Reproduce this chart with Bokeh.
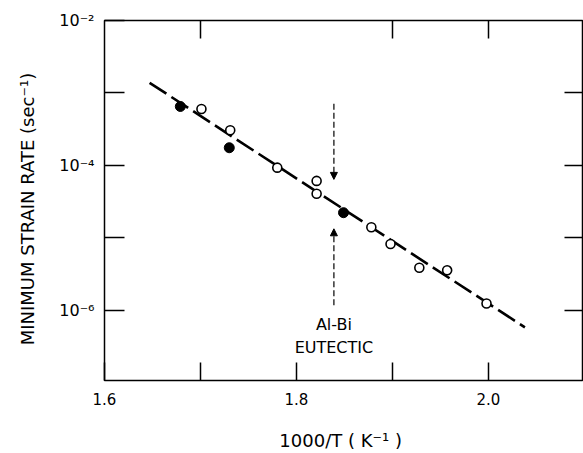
from bokeh.plotting import figure
from bokeh.models import (Range1d, FixedTicker, LogAxis, LinearAxis,
                          CustomJSTickFormatter, Arrow, NormalHead, ColumnDataSource)
from bokeh.core.properties import value
from bokeh.embed import file_html
from bokeh.resources import INLINE

# ---- data ----
open_x = [1.701, 1.731, 1.780, 1.821, 1.821, 1.878, 1.898, 1.928, 1.957, 1.998]
open_y = [6.0e-4, 3.05e-4, 9.3e-5, 6.1e-5, 4.05e-5, 1.40e-5, 8.2e-6, 3.85e-6, 3.56e-6, 1.24e-6]
filled_x = [1.679, 1.730, 1.849]
filled_y = [6.5e-4, 1.75e-4, 2.22e-5]
fit_x = [1.647, 2.038]
fit_y = [1.38e-3, 5.8e-7]
eutectic_x = 1.839
arrow_down_y = [7.1e-4, 6.4e-5]
arrow_up_y = [1.17e-6, 1.33e-5]
note_text = ["Al-Bi", "EUTECTIC"]
note_y = [6.4e-7, 3.1e-7]
x_major = [1.6, 1.8, 2.0]
x_minor = [1.7, 1.9]
y_major = [1e-2, 1e-4, 1e-6]
y_minor = [1e-3, 1e-5]

FONT = "DejaVu Sans"

p = figure(width=583, height=453, y_axis_type="log",
           x_range=Range1d(1.6, 2.098), y_range=Range1d(1.07e-7, 1e-2),
           output_backend="svg", toolbar_location=None,
           min_border_left=104, min_border_top=20, min_border_bottom=70,
           min_border_right=1)
p.grid.visible = False
p.outline_line_color = "black"
p.outline_line_width = 1.5
p.background_fill_color = "white"
p.border_fill_color = "white"

xfmt = CustomJSTickFormatter(code="return tick.toFixed(1);")
yfmt = CustomJSTickFormatter(code="""
const e = Math.round(Math.log10(tick));
const sup = {"-":"\u207b","0":"\u2070","1":"\u00b9","2":"\u00b2","3":"\u00b3","4":"\u2074","5":"\u2075","6":"\u2076","7":"\u2077","8":"\u2078","9":"\u2079"};
return "10" + String(e).split("").map(c => sup[c]).join("");
""")

def style(ax, tick_len):
    ax.major_tick_in = tick_len
    ax.major_tick_out = 0
    ax.minor_tick_in = tick_len
    ax.minor_tick_out = 0
    ax.major_tick_line_width = 1.5
    ax.minor_tick_line_width = 1.5
    ax.major_tick_line_color = "black"
    ax.minor_tick_line_color = "black"
    ax.axis_line_color = None
    ax.major_label_text_font = FONT
    ax.major_label_text_font_size = "15px"
    ax.major_label_text_color = "black"

xa = p.xaxis[0]
xa.ticker = FixedTicker(ticks=x_major, minor_ticks=x_minor)
xa.formatter = xfmt
style(xa, 18)
xa.major_label_standoff = 12
xa.axis_label = "1000/T  ( K\u207b\u00b9 )"
xa.axis_label_text_font = FONT
xa.axis_label_text_font_size = "18px"
xa.axis_label_text_font_style = "normal"
xa.axis_label_text_color = "black"
xa.axis_label_standoff = 22

ya = p.yaxis[0]
ya.ticker = FixedTicker(ticks=y_major, minor_ticks=y_minor)
ya.formatter = yfmt
style(ya, 20)
ya.major_label_text_font_size = "16px"
ya.major_label_standoff = 10
ya.axis_label = "MINIMUM  STRAIN  RATE  (sec\u207b\u00b9)"
ya.axis_label_text_font = FONT
ya.axis_label_text_font_size = "18px"
ya.axis_label_text_font_style = "normal"
ya.axis_label_text_color = "black"
ya.axis_label_standoff = 18

top = LinearAxis(ticker=FixedTicker(ticks=[], minor_ticks=x_minor + [2.0]))
style(top, 18)
top.major_label_standoff = 0
p.add_layout(top, "above")

right = LogAxis(ticker=FixedTicker(ticks=[], minor_ticks=y_minor + [1e-4, 1e-6]))
style(right, 18)
right.major_label_standoff = 0
p.add_layout(right, "right")

# fitted line
p.line(fit_x, fit_y, line_color="black", line_width=2.6, line_dash="20 6")

# data points
p.scatter(open_x, open_y, size=9, marker="circle", fill_color="white",
          line_color="black", line_width=1.6)
p.scatter(filled_x, filled_y, size=10, marker="circle", fill_color="black",
          line_color="black")

# eutectic arrows
for ys in (arrow_down_y, arrow_up_y):
    p.add_layout(Arrow(x_start=eutectic_x, y_start=ys[0], x_end=eutectic_x, y_end=ys[1],
                       line_color="black", line_width=1.2, line_dash="6 3",
                       end=NormalHead(size=7, fill_color="black", line_color="black")))

src = ColumnDataSource(dict(x=[eutectic_x] * len(note_text), y=note_y, t=note_text))
p.text(x="x", y="y", text="t", source=src, text_align="center", text_baseline="middle",
       text_font=value(FONT), text_font_size="16px", text_color="black")

open("out.html", "w").write(file_html(p, INLINE))
